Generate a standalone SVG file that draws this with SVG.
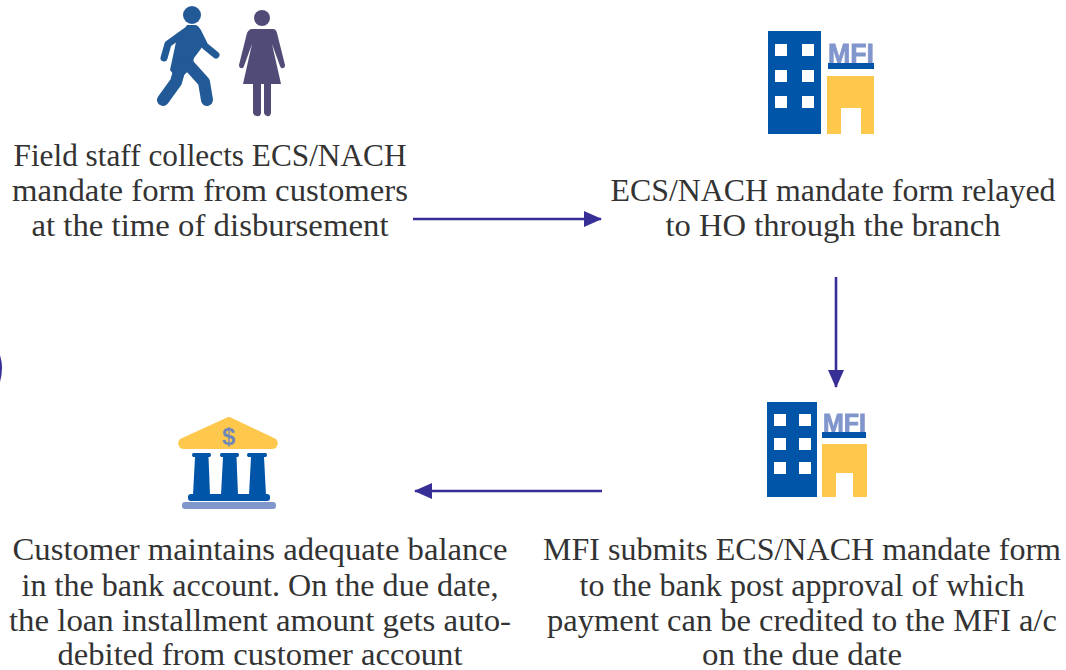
<svg xmlns="http://www.w3.org/2000/svg" width="1066" height="670" viewBox="0 0 1066 670">
<style>
.t{font-family:"Liberation Serif","DejaVu Serif",serif;font-size:31px;fill:#333333;text-anchor:middle}
.blue{fill:#0554a8}.yel{fill:#fec84d}.win{fill:#fff}
.mfi{font-family:"Liberation Sans",Arial,sans-serif;font-weight:700;fill:#8196cc;stroke:#8196cc;stroke-width:.8}
.c{stroke:#372e96;stroke-width:2.6;fill:none}
.m{fill:#225a97}.w{fill:#514c77}
.ml{stroke:#225a97;fill:none;stroke-linecap:round;stroke-linejoin:round}
.ic{filter:url(#soft)}
</style>
<defs>
<marker id="a" markerUnits="userSpaceOnUse" markerWidth="18" markerHeight="16" refX="17" refY="8" orient="auto"><path d="M0 0L18 8L0 16Z" fill="#372e96"/></marker>
<filter id="soft" x="-20%" y="-20%" width="140%" height="140%"><feGaussianBlur stdDeviation="0.55"/></filter>
</defs>
<rect width="1066" height="670" fill="#fff"/>
<g id="connectors">
<path class="c" d="M413 219H601" marker-end="url(#a)"/>
<path class="c" d="M836 277V387" marker-end="url(#a)"/>
<path class="c" d="M602 491H415" marker-end="url(#a)"/>
<path d="M0 355Q4 368 0 382Z" fill="#372e96"/>
</g>
<g id="node-staff">
<g id="man" class="ic">
<circle class="m" cx="192" cy="15" r="9"/>
<path class="m" d="M187 25H195Q198 25 200 29L206 42L194 58L192 68L178 80L170 70L176 42Z"/>
<path class="ml" stroke-width="7" d="M186 31L168 44L164 58"/>
<path class="ml" stroke-width="7" d="M198 32L205 46L216 55"/>
<path class="ml" stroke-width="12" d="M180 68L176 82L163 100"/>
<path class="ml" stroke-width="12" d="M186 62L204 82L207 100"/>
</g>
<g id="woman" class="ic">
<circle class="w" cx="262" cy="18" r="8"/>
<path class="w" d="M252 29H273Q276 29 277 33L285 65Q285 68 283 68Q281 69 280 66L272 44L281 84H271V113Q270 117 267 116Q265 116 264 113V84H261V113Q260 117 257 116Q254 116 253 113V84H243L252 44L244 66Q243 69 241 68Q239 68 239 65L247 33Q249 29 252 29Z"/>
</g>
<text class="t" x="210" y="166" textLength="393" lengthAdjust="spacingAndGlyphs">Field staff collects ECS/NACH</text>
<text class="t" x="210" y="201" textLength="396" lengthAdjust="spacingAndGlyphs">mandate form from customers</text>
<text class="t" x="210" y="236" textLength="357" lengthAdjust="spacingAndGlyphs">at the time of disbursement</text>
</g>
<g id="node-branch">
<g class="ic">
<rect class="blue" x="768" y="31" width="53" height="103"/>
<g class="win"><rect x="775" y="44" width="12" height="12"/><rect x="802" y="44" width="12" height="12"/><rect x="775" y="70" width="12" height="12"/><rect x="802" y="70" width="12" height="12"/><rect x="775" y="96" width="12" height="12"/><rect x="802" y="96" width="12" height="12"/></g>
<text class="mfi" x="828" y="63" font-size="28" textLength="46" lengthAdjust="spacingAndGlyphs">MFI</text>
<rect class="blue" x="828" y="63" width="46" height="6"/>
<path class="yel" d="M827 76H874V134H861V108H841V134H827Z"/>
</g>
<text class="t" x="833" y="201" textLength="445" lengthAdjust="spacingAndGlyphs">ECS/NACH mandate form relayed</text>
<text class="t" x="833" y="236" textLength="335" lengthAdjust="spacingAndGlyphs">to HO through the branch</text>
</g>
<g id="node-mfi">
<g class="ic">
<rect class="blue" x="767" y="402" width="50" height="95"/>
<g class="win"><rect x="774" y="414" width="12" height="12"/><rect x="799" y="414" width="12" height="12"/><rect x="774" y="438" width="12" height="12"/><rect x="799" y="438" width="12" height="12"/><rect x="774" y="462" width="12" height="12"/><rect x="799" y="462" width="12" height="12"/></g>
<text class="mfi" x="823" y="432" font-size="25" textLength="43" lengthAdjust="spacingAndGlyphs">MFI</text>
<rect class="blue" x="822" y="432" width="44" height="6"/>
<path class="yel" d="M822 444H867V497H853V473H836V497H822Z"/>
</g>
<text class="t" x="802" y="560" textLength="518" lengthAdjust="spacingAndGlyphs">MFI submits ECS/NACH mandate form</text>
<text class="t" x="802" y="596" textLength="445" lengthAdjust="spacingAndGlyphs">to the bank post approval of which</text>
<text class="t" x="802" y="631" textLength="510" lengthAdjust="spacingAndGlyphs">payment can be credited to the MFI a/c</text>
<text class="t" x="802" y="665" textLength="200" lengthAdjust="spacingAndGlyphs">on the due date</text>
</g>
<g id="node-bank">
<g class="ic">
<path class="yel" d="M226 418Q229 416 232 418L276 439Q279 442 277 446Q276 449 272 449H184Q180 449 179 446Q177 442 180 439Z"/>
<text x="229" y="445" font-family="Liberation Sans,sans-serif" font-weight="700" font-size="24" text-anchor="middle" fill="#6f86b8">$</text>
<g class="blue">
<path d="M193 453H210Q212 455 210 457H208.500L210 495H193L195 457H193Q191 455 193 453Z"/>
<path d="M221 453H238Q240 455 238 457H236.500L238 495H221L223 457H221Q219 455 221 453Z"/>
<path d="M248 453H266Q268 455 266 457H264L266 495H249L251 457H248Q246 455 248 453Z"/>
<rect x="188" y="494" width="82" height="7" rx="3"/>
</g>
<rect x="182" y="502" width="94" height="7" rx="3" fill="#7f97cb"/>
</g>
<text class="t" x="260" y="560" textLength="495" lengthAdjust="spacingAndGlyphs">Customer maintains adequate balance</text>
<text class="t" x="260" y="596" textLength="477" lengthAdjust="spacingAndGlyphs">in the bank account. On the due date,</text>
<text class="t" x="260" y="631" textLength="502" lengthAdjust="spacingAndGlyphs">the loan installment amount gets auto-</text>
<text class="t" x="260" y="665" textLength="405" lengthAdjust="spacingAndGlyphs">debited from customer account</text>
</g>
</svg>
